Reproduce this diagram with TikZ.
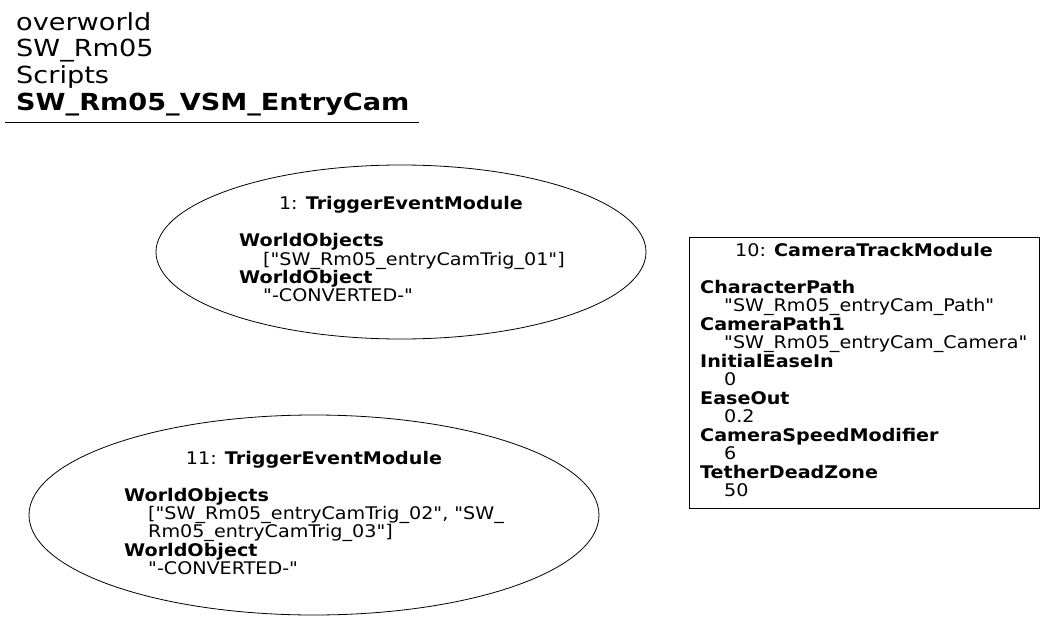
\documentclass[tikz,border=0pt]{standalone}
\usepackage{fontspec}
\setmainfont{DejaVu Sans}[Ligatures=TeXOff]
\newfontfamily\nodefont{DejaVu Sans}[FakeStretch=1.1, Ligatures=TeXOff]
\newfontfamily\titlefont{DejaVu Sans}[FakeStretch=1.155, Ligatures=TeXOff]
\usetikzlibrary{shapes.geometric}
\tikzset{
  x=1pt, y=-1pt,
  shape1/.style={draw, ellipse, line width=0.8pt, inner sep=0pt},
  boxshape/.style={draw, rectangle, line width=0.8pt, inner sep=0pt},
  nodetext/.style={inner sep=0pt, font=\nodefont\fontsize{17.4}{18.2}\selectfont},
  bodytext/.style={nodetext, align=left, anchor=north west},
  boxbody/.style={bodytext, font=\nodefont\fontsize{17.4}{18.5}\selectfont},
  titletext/.style={inner sep=0pt, align=left, anchor=north west, font=\titlefont\fontsize{23.5}{26.7}\selectfont},
}
\newcommand{\ind}{\hspace*{24pt}}
\begin{document}
\begin{tikzpicture}
\useasboundingbox (0,0) rectangle (1045,621);
% title
\node[titletext] (title) at (16,12) {overworld\\SW\_Rm05\\Scripts\\\textbf{SW\_Rm05\_VSM\_EntryCam}};
\coordinate (ulA) at (5,122);
\coordinate (ulB) at (419,122);
\draw[line width=0.8pt] (ulA) -- (ulB);
% module 1
\node[shape1, minimum width=490, minimum height=174] (m1) at (401,252) {};
\node[nodetext, anchor=base] (m1t) at (401,209) {1: \textbf{TriggerEventModule}};
\node[bodytext] (m1b) at (239,233.5) {\textbf{WorldObjects}\\\ind["SW\_Rm05\_entryCamTrig\_01"]\\\textbf{WorldObject}\\\ind"-CONVERTED-"};
% module 11
\node[shape1, minimum width=570, minimum height=200] (m11) at (314,515) {};
\node[nodetext, anchor=base] (m11t) at (314,464) {11: \textbf{TriggerEventModule}};
\node[bodytext] (m11b) at (124,488) {\textbf{WorldObjects}\\\ind["SW\_Rm05\_entryCamTrig\_02", "SW\_\\\ind Rm05\_entryCamTrig\_03"]\\\textbf{WorldObject}\\\ind"-CONVERTED-"};
% module 10
\node[boxshape, minimum width=350, minimum height=271] (m10) at (864,372.5) {};
\node[nodetext, anchor=base] (m10t) at (864,256) {10: \textbf{CameraTrackModule}};
\node[boxbody] (m10b) at (700,280) {\textbf{CharacterPath}\\\ind"SW\_Rm05\_entryCam\_Path"\\\textbf{CameraPath1}\\\ind"SW\_Rm05\_entryCam\_Camera"\\\textbf{InitialEaseIn}\\\ind 0\\\textbf{EaseOut}\\\ind 0.2\\\textbf{CameraSpeedModifier}\\\ind 6\\\textbf{TetherDeadZone}\\\ind 50};
\end{tikzpicture}
\end{document}
